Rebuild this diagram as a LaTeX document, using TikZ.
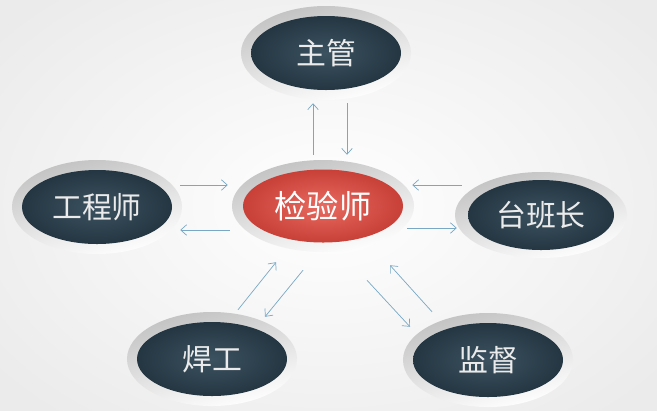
\documentclass[tikz,border=0pt]{standalone}
\usepackage{fontspec}
\setmainfont{Noto Sans CJK SC}
\usepackage{tikz}
\usetikzlibrary{calc,shapes.geometric,arrows.meta}
\definecolor{slate}{RGB}{36,54,66}
\definecolor{slatelight}{RGB}{60,82,96}
\definecolor{brick}{RGB}{200,64,56}
\definecolor{bricklight}{RGB}{232,106,96}
\definecolor{flowblue}{RGB}{120,168,196}
\tikzset{
  ring/.style={ellipse, minimum width=5.1cm, minimum height=2.82cm, inner sep=0pt,
    top color=gray!48, bottom color=white, shading angle=15},
  role/.style={ellipse, minimum width=4.5cm, minimum height=2.22cm, inner sep=0pt,
    inner color=slatelight, outer color=slate, text=white!92!black,
    font=\fontsize{25.5}{30}\selectfont},
  hub/.style={ellipse, minimum width=4.8cm, minimum height=2.19cm, inner sep=0pt,
    inner color=bricklight, outer color=brick, text=white,
    font=\fontsize{27.5}{32}\selectfont},
  flow/.style={draw=flowblue, line width=0.6pt, -{Straight Barb[length=5pt,width=9pt]}}
}

\begin{document}
\begin{tikzpicture}[x=0.03cm,y=-0.03cm]
	%%%%% START %%%%%
	\useasboundingbox (0,0) rectangle (657,410);
	\shade[inner color=white, outer color=gray!16] (-100,-80) rectangle (757,490);
	
	\node[ring] (zg) at (326,53) {};
	\node[role] (zg-in) at (326,53) {主管};
	
	\node[ring, minimum width=5.46cm, minimum height=2.76cm] (jys) at (323,206) {};
	\node[hub] (jys-in) at (323,206) {检验师};
	
	\node[ring] (gcs) at (97,207) {};
	\node[role] (gcs-in) at (97,207) {工程师};
	
	\node[ring, minimum width=5.16cm, minimum height=2.58cm] (tbz) at (541,215) {};
	\node[role, minimum width=4.38cm, minimum height=2.1cm] (tbz-in) at (541,215) {台班长};
	
	\node[ring] (hg) at (212,359) {};
	\node[role] (hg-in) at (212,359) {焊工};
	
	\node[ring] (jd) at (488,360) {};
	\node[role] (jd-in) at (488,360) {监督};
	
	% up / down
	\draw[flow] ($(jys.north)+(-10,-5)$) -- ($(zg.south)+(-13,3)$);
	\draw[flow] ($(zg.south)+(21,3)$) -- ($(jys.north)+(24,-5)$);
	
	% left pair
	\draw[flow] ($(gcs.east)+(-2,-22)$) -- ($(jys.west)+(-4,-21)$);
	\draw[flow] ($(jys.west)+(-2,24)$) -- ($(gcs.east)+(-2,23)$);
	
	% right pair
	\draw[flow] ($(tbz.west)+(7,-30)$) -- ($(jys.east)+(-2,-21)$);
	\draw[flow] ($(jys.east)+(-7,22)$) -- ($(tbz.west)+(2,13)$);
	
	% lower left pair
	\draw[flow] ($(hg.north)+(26,-2)$) -- ($(jys.south)+(-47,10)$);
	\draw[flow] ($(jys.south)+(-20,18)$) -- ($(hg.north)+(53,5)$);
	
	% lower right pair
	\draw[flow] ($(jys.south)+(44,28)$) -- ($(jd.north)+(-78,14)$);
	\draw[flow] ($(jd.north)+(-56,-1)$) -- ($(jys.south)+(67,13)$);
	
	%%%%% END %%%%%
\end{tikzpicture}
\end{document}
